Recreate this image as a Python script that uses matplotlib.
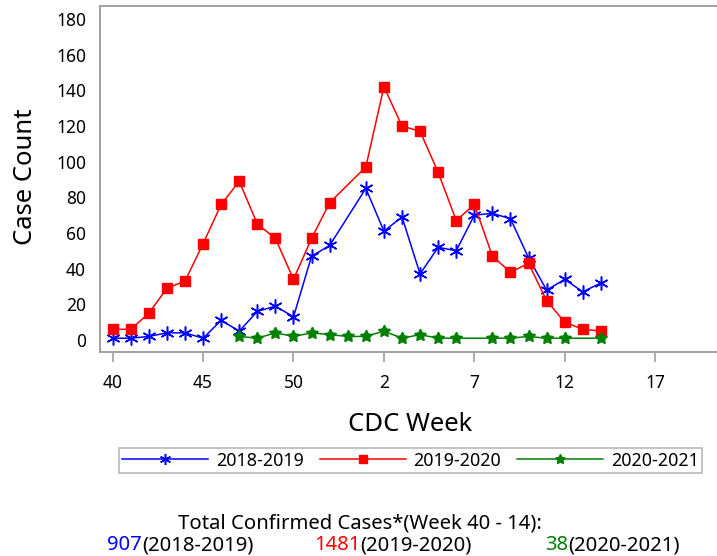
import numpy as np
import matplotlib
matplotlib.use("Agg")
import matplotlib.pyplot as plt

plt.rcParams['font.family'] = ['Noto Sans', 'DejaVu Sans']

# ---- data ----
axis_weeks = list(range(40, 54)) + list(range(1, 21))   # season slots incl. week 53
tick_weeks = [40, 45, 50, 2, 7, 12, 17]
data_weeks = list(range(40, 54)) + list(range(1, 15))   # weeks 40..53, 1..14

cases_2018_2019 = [1, 1, 2, 4, 4, 1, 11, 5, 16, 19, 13, 47, 53, None,
                   85, 61, 69, 37, 52, 50, 70, 71, 68, 46, 28, 34, 27, 32]
cases_2019_2020 = [6, 6, 15, 29, 33, 54, 76, 89, 65, 57, 34, 57, 77, None,
                   97, 142, 120, 117, 94, 67, 76, 47, 38, 43, 22, 10, 6, 5]
cases_2020_2021 = [None, None, None, None, None, None, None, 2, 1, 4, 2, 4, 3, 2,
                   2, 5, 1, 3, 1, 1, None, 1, 1, 2, 1, 1, None, 1]

series_names = ['2018-2019', '2019-2020', '2020-2021']
totals = ['907', '1481', '38']
colors = ['#0000ff', '#ff0000', '#008000']

# ---- figure ----
fig = plt.figure(figsize=(7.17, 5.56), dpi=100)
ax = fig.add_axes([100 / 717, 1 - 352 / 556, 617 / 717, 346 / 556])


def xy(vals):
    xs, ys = [], []
    for w, v in zip(data_weeks, vals):
        if v is not None:
            xs.append(axis_weeks.index(w))
            ys.append(v)
    return xs, ys


x, y = xy(cases_2018_2019)
ax.plot(x, y, color=colors[0], lw=1.1, marker=(6, 2, 0), ms=10, mew=1.1,
        label=series_names[0])
x, y = xy(cases_2019_2020)
ax.plot(x, y, color=colors[1], lw=1.1, marker='s', ms=6.5, mec=colors[1],
        label=series_names[1])
x, y = xy(cases_2020_2021)
ax.plot(x, y, color=colors[2], lw=1.1, marker=(5, 1, 0), ms=9, mec=colors[2],
        label=series_names[2])

ax.set_xlim(-0.70, 33.42)
ax.set_ylim(-6.73, 187.27)
ax.set_xticks([axis_weeks.index(w) for w in tick_weeks])
ax.set_xticklabels([str(w) for w in tick_weeks])
ax.set_yticks(np.arange(0, 181, 20))

spine_c = '#a0a0a0'
for s in ['left', 'top', 'bottom']:
    ax.spines[s].set_color(spine_c)
    ax.spines[s].set_linewidth(1.4)
ax.spines['right'].set_visible(False)
ax.tick_params(axis='x', length=7.2, width=1.2, color=spine_c, pad=9,
               labelsize=12.5, direction='out')
ax.tick_params(axis='y', length=0, pad=10, labelsize=12.5)

fig.text(31.7 / 717, 1 - 176.5 / 556, 'Case Count', rotation=90,
         rotation_mode='anchor', ha='center', va='baseline', fontsize=18.5)
fig.text(410.5 / 717, 1 - 430.7 / 556, 'CDC Week', ha='center',
         va='baseline', fontsize=18.5)

leg = fig.legend(loc='center', bbox_to_anchor=(410.5 / 717, 1 - 460.7 / 556),
                 ncol=3, fontsize=12.9, frameon=True, fancybox=False,
                 borderpad=0.2, handlelength=4.8, handletextpad=0.45,
                 columnspacing=0.85, markerscale=0.8)
leg.get_frame().set_edgecolor(spine_c)
leg.get_frame().set_linewidth(1.1)

fig.text(178.3 / 717, 1 - 528.3 / 556, 'Total Confirmed Cases*(Week 40 - 14):',
         ha='left', va='baseline', fontsize=14.6)

starts = [107.3, 314, 545.3]
for start, tot, name, c in zip(starts, totals, series_names, colors):
    t = fig.text(start / 717, 1 - 550.5 / 556, tot, color=c, ha='left',
                 va='baseline', fontsize=14.6)
    ax.annotate('(' + name + ')', xy=(1, 0), xycoords=t, xytext=(0, 0),
                textcoords='offset points', ha='left', va='bottom',
                fontsize=14.6, color='black', annotation_clip=False)

fig.savefig('out.png', dpi=100)
